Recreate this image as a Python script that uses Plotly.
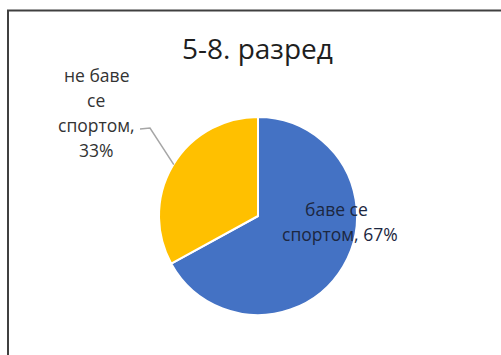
import math
import plotly.graph_objects as go

# Share of pupils (grades 5-8) who do / do not play sport
categories = ["баве се спортом", "не баве се спортом"]
shares = [67, 33]
colors = ["#4472C4", "#FFC000"]
title_text = "5-8. разред"

W, H = 501, 355
cx, cy, r = 258, 216, 99  # pie centre and radius in pixels

fig = go.Figure()
fig.add_trace(go.Pie(
    labels=categories,
    values=shares,
    sort=False,
    direction="clockwise",
    rotation=0,
    textinfo="none",
    hoverinfo="label+percent",
    marker=dict(colors=colors, line=dict(color="white", width=2)),
    domain=dict(x=[(cx - r) / W, (cx + r) / W],
                y=[(H - cy - r) / H, (H - cy + r) / H]),
    showlegend=False,
))

font = "Open Sans, Calibri, sans-serif"
lab_color = "#333333"
lab_size = 17.5
line_gap = 25

def px(x, y):
    return x / W, 1 - y / H

def text_at(text, x, y, size, color):
    xx, yy = px(x, y)
    return dict(text=text, x=xx, y=yy, xref="paper", yref="paper",
                xanchor="center", yanchor="middle", showarrow=False,
                font=dict(family=font, size=size, color=color))

annotations = [text_at(title_text, 257, 48, 28, "#1E1E1E")]

# Inside label of the larger slice
big_lines = ["баве се", f"спортом, {shares[0]}%"]
for i, (line, xc) in enumerate(zip(big_lines, [336, 340])):
    annotations.append(text_at(line, xc, 209 + i * line_gap, lab_size, "#1C2740"))

# Outside label of the smaller slice
small_lines = ["не баве", "се", "спортом,", f"{shares[1]}%"]
for i, line in enumerate(small_lines):
    annotations.append(text_at(line, 96, 75 + i * line_gap, lab_size, lab_color))

# Leader line: from label to the middle of the smaller slice's arc
total = sum(shares)
mid_angle = 2 * math.pi * (shares[0] + shares[1] / 2) / total  # clockwise from 12 o'clock
ex = cx + r * math.sin(mid_angle)
ey = cy - r * math.cos(mid_angle)

shapes = [
    dict(type="path", xref="paper", yref="paper",
         path="M {} {} L {} {} L {} {}".format(
             *px(140, 129), *px(150, 128), *px(ex + 1, ey - 1)),
         line=dict(color="#A6A6A6", width=1.5)),
    # chart frame
    dict(type="rect", xref="paper", yref="paper",
         x0=8 / W, y0=-0.05, x1=1.05, y1=1 - 10.5 / H,
         line=dict(color="#404040", width=2)),
]

fig.update_layout(
    width=W, height=H,
    margin=dict(l=0, r=0, t=0, b=0),
    paper_bgcolor="white",
    plot_bgcolor="white",
    annotations=annotations,
    shapes=shapes,
)

fig.write_html("out.html")
